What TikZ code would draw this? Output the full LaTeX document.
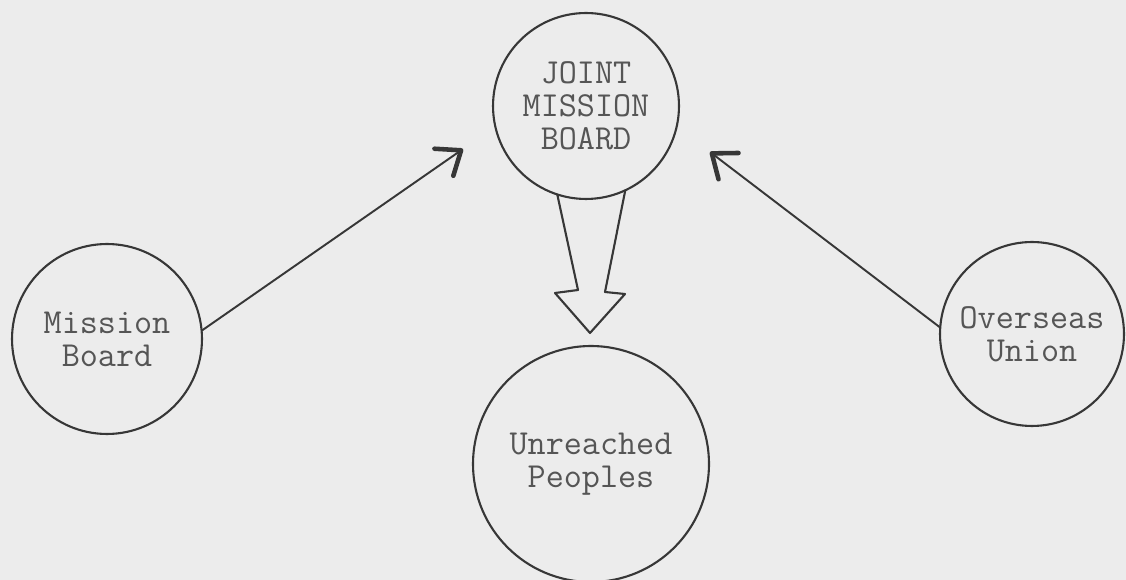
\documentclass[tikz,border=0pt]{standalone}
\usepackage{fontspec}
\usetikzlibrary{arrows.meta}

\definecolor{paper}{RGB}{236,236,236}
\definecolor{ink}{RGB}{55,55,55}

\begin{document}
\begin{tikzpicture}[x=0.02cm, y=-0.02cm,
		board/.style={circle, draw=ink, line width=1.2pt, inner sep=0mm, outer sep=0mm, align=center, text=ink!85, font=\ttfamily\fontsize{20}{18.8}\selectfont\addfontfeature{LetterSpace=4}},
		link/.style={draw=ink, line width=1.1pt, -{Straight Barb[length=4.2mm, width=6.6mm, line width=2.6pt, round]}}]
		\fill[paper] (0,0) rectangle (1126,580);
		\useasboundingbox (0,0) rectangle (1126,580);
		\node[board, minimum size=3.72cm] at (586,106) (jmb) {JOINT\\MISSION\\BOARD};
		\node[board, minimum size=3.8cm] at (107,339) (mb) {Mission\\Board};
		\node[board, minimum size=3.68cm] at (1032,334) (ou) {Overseas\\Union};
		\node[board, minimum size=4.72cm] at (591,464) (up) {Unreached\\Peoples};
		\coordinate (lefttip) at (463,149);
		\coordinate (righttip) at (710,152);
		\draw[link] (mb.5)--(lefttip);
		\draw[link] (ou.176)--(righttip);
		\draw[ink, line width=1.2pt, line join=round] (jmb.-108)--(578,290)--(555,293)--(590,333)--(625,294)--(605,292)--(jmb.-65);
	\end{tikzpicture}
\end{document}
